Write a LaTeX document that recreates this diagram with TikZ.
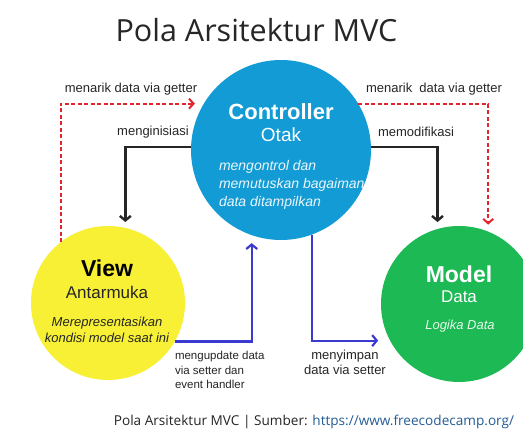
\documentclass[tikz,border=0pt]{standalone}
\usepackage{fontspec}
\setmainfont{Liberation Sans}
\newfontfamily\titlefont{Open Sans}
\usetikzlibrary{arrows.meta}

\definecolor{ctrlblue}{HTML}{139BD5}
\definecolor{viewyellow}{HTML}{F7F034}
\definecolor{modelgreen}{HTML}{1CB954}
\definecolor{getred}{HTML}{E0252D}
\definecolor{setblue}{HTML}{3A3AD0}
\definecolor{inkblack}{HTML}{262626}
\definecolor{linkblue}{HTML}{245C96}

\begin{document}
\begin{tikzpicture}[x=1pt,y=-1pt,
  bubble/.style={circle, inner sep=0pt, outer sep=0pt},
  txt/.style={inner sep=0pt, outer sep=0pt},
  getline/.style={getred, line width=2pt, dash pattern=on 4pt off 2.5pt,
    -{Straight Barb[length=4.5pt,width=10pt]}},
  initline/.style={inkblack, line width=2.4pt,
    -{Straight Barb[length=4.5pt,width=11pt]}},
  setline/.style={setblue, line width=2.2pt,
    -{Straight Barb[length=4.5pt,width=11pt]}},
  lbl/.style={txt, text=inkblack, font=\fontsize{13}{15}\selectfont},
]
\useasboundingbox (0,0) rectangle (523,430);
\clip (0,0) rectangle (523,430);
\fill[white] (0,0) rectangle (523,430);

% title
\node[txt, anchor=base, text=inkblack, font=\titlefont\fontsize{30.5}{34}\selectfont]
  (title) at (256.5,42) {Pola Arsitektur MVC};

% the three components
\node[bubble, fill=ctrlblue, minimum size=180pt] (ctrl) at (281,150) {};
\node[bubble, fill=viewyellow, minimum size=154pt] (view) at (108,303) {};
\node[bubble, fill=modelgreen, minimum size=156pt] (model) at (459,304) {};

% controller text
\node[txt, text=white, font=\bfseries\fontsize{22}{24}\selectfont] (ctrlname) at (281,112) {Controller};
\node[txt, text=white, font=\fontsize{19}{21}\selectfont] (ctrlrole) at (281,135) {Otak};
\node[txt, anchor=west, align=left, text=white!92!ctrlblue,
  font=\itshape\fontsize{14}{18}\selectfont] (ctrldesc) at (219,185)
  {mengontrol dan\\memutuskan bagaiman\\data ditampilkan};

% view text
\node[txt, text=black, font=\bfseries\fontsize{23}{25}\selectfont] (viewname) at (107,268) {View};
\node[txt, text=inkblack, font=\fontsize{17}{19}\selectfont] (viewrole) at (107,292) {Antarmuka};
\node[txt, align=center, text=inkblack, font=\itshape\fontsize{13}{16}\selectfont]
  (viewdesc) at (107,330) {Merepresentasikan\\kondisi model saat ini};

% model text
\node[txt, text=white, font=\bfseries\fontsize{23}{25}\selectfont] (modelname) at (459,274) {Model};
\node[txt, text=white, font=\fontsize{17}{19}\selectfont] (modelrole) at (459,297) {Data};
\node[txt, text=white!90!modelgreen, font=\itshape\fontsize{13}{15}\selectfont]
  (modeldesc) at (460,326) {Logika Data};

% connectors
\draw[getline] (view.128) |- ([xshift=-9pt]ctrl.149);
\draw[getline] (ctrl.31) -| ([yshift=7pt]model.68);
\draw[initline] (ctrl.178) -| ([yshift=6pt]view.77);
\draw[initline] (ctrl.2) -| ([yshift=7pt]model.106);
\draw[setline] (view.-30) -| ([yshift=-8pt]ctrl.-109);
\draw[setline] (ctrl.-70) |- ([xshift=-12pt]model.208);

% connector labels
\node[lbl] (getleft) at (131,89) {menarik data via getter};
\node[lbl] (getright) at (434,89) {menarik\hspace{0.55em}data via getter};
\node[lbl] (initleft) at (153,132) {menginisiasi};
\node[lbl] (initright) at (416,132) {memodifikasi};
\node[lbl, anchor=west, align=left, font=\fontsize{11.5}{14.5}\selectfont]
  (setleft) at (175,370) {mengupdate data\\via setter dan\\event handler};
\node[lbl, align=center, font=\fontsize{13}{15}\selectfont]
  (setright) at (345,362) {menyimpan\\data via setter};

% caption
\node[txt, text=inkblack, font=\titlefont\fontsize{13.6}{15}\selectfont] (caption) at (314,422)
  {Pola Arsitektur MVC | Sumber: \textcolor{linkblue}{https://www.freecodecamp.org/}};
\end{tikzpicture}
\end{document}
